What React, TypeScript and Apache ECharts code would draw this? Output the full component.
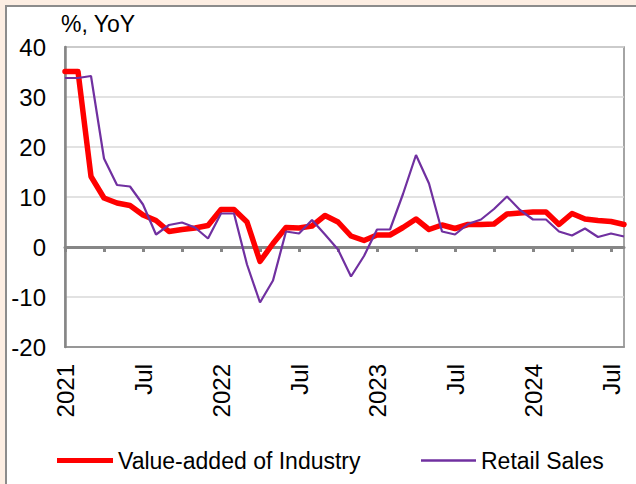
import React, { useEffect, useRef } from "react";
import * as echarts from "echarts";

const months: string[] = [];
for (let y = 2021; y <= 2024; y++) {
  for (let m = 1; m <= 12; m++) {
    if (y === 2024 && m > 8) break;
    months.push(`${y}-${String(m).padStart(2, "0")}`);
  }
}

const industry = [
  35.1, 35.1, 14.1, 9.8, 8.8, 8.3, 6.4, 5.3, 3.1, 3.5, 3.8, 4.3,
  7.5, 7.5, 5.0, -2.9, 0.7, 3.9, 3.8, 4.2, 6.3, 5.0, 2.2, 1.3,
  2.4, 2.4, 3.9, 5.6, 3.5, 4.4, 3.7, 4.5, 4.5, 4.6, 6.6, 6.8,
  7.0, 7.0, 4.5, 6.7, 5.6, 5.3, 5.1, 4.5,
];

const retail = [
  33.8, 33.8, 34.2, 17.7, 12.4, 12.1, 8.5, 2.5, 4.4, 4.9, 3.9, 1.7,
  6.7, 6.7, -3.5, -11.1, -6.7, 3.1, 2.7, 5.4, 2.5, -0.5, -5.9, -1.8,
  3.5, 3.5, 10.6, 18.4, 12.7, 3.1, 2.5, 4.6, 5.5, 7.6, 10.1, 7.4,
  5.5, 5.5, 3.1, 2.3, 3.7, 2.0, 2.7, 2.1,
];

const seriesNames = ["Value-added of Industry", "Retail Sales"];
const yUnit = "%, YoY";

const FONT = "'Liberation Sans', Arial, sans-serif";
const FS = 24;

export default function App() {
  const ref = useRef<HTMLDivElement>(null);
  useEffect(() => {
    if (!ref.current) return;
    const chart = echarts.init(ref.current, undefined, { renderer: "svg" });
    const gray = "#868686";
    const legendText = { fontSize: FS - 1, fontFamily: FONT, color: "#000" };
    chart.setOption({
      animation: false,
      backgroundColor: "transparent",
      textStyle: { fontFamily: FONT },
      grid: {
        left: 65,
        top: 47,
        width: 559,
        height: 300,
        show: true,
        borderColor: gray,
        borderWidth: 1.5,
        backgroundColor: "transparent",
      },
      graphic: [
        {
          type: "text",
          left: 61,
          top: 12,
          style: { text: yUnit, fontSize: FS - 1, fontFamily: FONT, fill: "#000" },
        },
      ],
      legend: [
        {
          left: 52,
          top: 444,
          icon: "rect",
          itemWidth: 56,
          itemHeight: 5,
          textStyle: legendText,
          data: [{ name: seriesNames[0] }],
        },
        {
          left: 416,
          top: 444,
          icon: "rect",
          itemWidth: 55,
          itemHeight: 2.5,
          textStyle: legendText,
          data: [{ name: seriesNames[1] }],
        },
      ],
      xAxis: [
        {
          type: "category",
          data: months,
          boundaryGap: false,
          position: "top",
          axisLine: { onZero: true, lineStyle: { color: gray, width: 3 } },
          axisTick: { show: true, inside: true, length: 5, interval: 2, lineStyle: { color: gray, width: 3 } },
          axisLabel: { show: false },
          splitLine: { show: false },
          z: 3,
        },
        {
          type: "category",
          data: months,
          boundaryGap: false,
          position: "bottom",
          axisLine: { onZero: false, show: true, lineStyle: { color: gray, width: 1.5 } },
          axisTick: { show: false },
          axisLabel: {
            interval: 5,
            rotate: 90,
            margin: 17,
            fontSize: FS,
            fontFamily: FONT,
            color: "#000",
            formatter: (v: string) => {
              const [y, m] = v.split("-");
              return m === "01" ? y : m === "07" ? "Jul" : "";
            },
          },
          splitLine: { show: false },
        },
      ],
      yAxis: {
        type: "value",
        min: -20,
        max: 40,
        interval: 10,
        axisLine: { show: true, onZero: false, lineStyle: { color: gray, width: 2.5 } },
        axisTick: { show: false },
        axisLabel: { fontSize: FS, fontFamily: FONT, color: "#000", margin: 19 },
        splitLine: { show: true, lineStyle: { color: "#d9d9d9", width: 1.5 } },
      },
      series: [
        {
          name: seriesNames[0],
          type: "line",
          xAxisIndex: 0,
          data: industry,
          symbol: "none",
          z: 4,
          lineStyle: { color: "#ff0000", width: 5.5, join: "round", cap: "round" },
          itemStyle: { color: "#ff0000" },
        },
        {
          name: seriesNames[1],
          type: "line",
          xAxisIndex: 0,
          data: retail,
          symbol: "none",
          z: 5,
          lineStyle: { color: "#7030a0", width: 2.2 },
          itemStyle: { color: "#7030a0" },
        },
      ],
    });
    return () => chart.dispose();
  }, []);

  return (
    <div style={{ position: "fixed", left: 0, top: 0, width: 636, height: 484, background: "#fdeee3" }}>
      <div
        style={{
          position: "absolute",
          left: 5,
          top: 5,
          right: 0,
          bottom: 0,
          background: "#fff",
          borderLeft: "2px solid #8c8c8c",
          borderTop: "2px solid #8c8c8c",
        }}
      />
      <div ref={ref} style={{ position: "absolute", left: 0, top: 0, width: 636, height: 484 }} />
    </div>
  );
}
